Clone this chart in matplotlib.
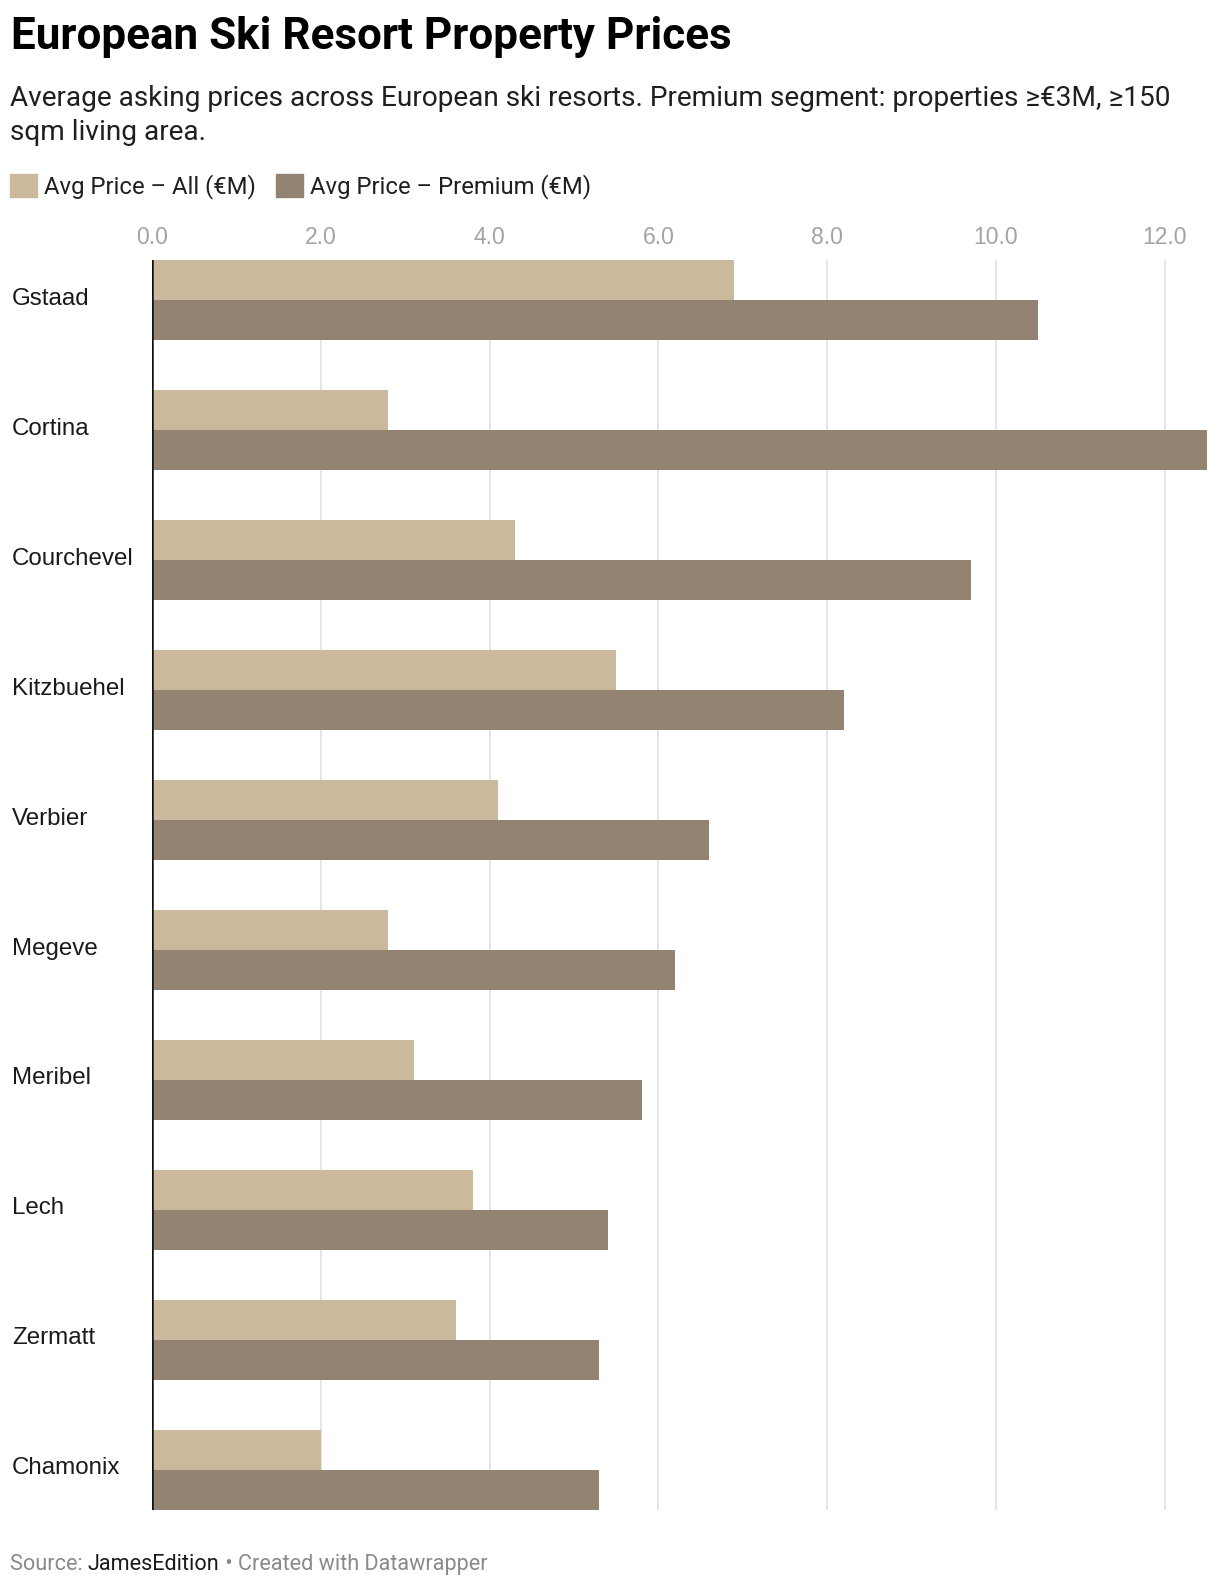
import matplotlib
matplotlib.use("Agg")
import matplotlib.pyplot as plt
from matplotlib.patches import Patch
import numpy as np

resorts = ["Gstaad", "Cortina", "Courchevel", "Kitzbuehel", "Verbier",
           "Megeve", "Meribel", "Lech", "Zermatt", "Chamonix"]
price_all = [6.9, 2.8, 4.3, 5.5, 4.1, 2.8, 3.1, 3.8, 3.6, 2.0]
price_premium = [10.5, 12.5, 9.7, 8.2, 6.6, 6.2, 5.8, 5.4, 5.3, 5.3]
series_names = ["Avg Price \u2013 All (\u20acM)", "Avg Price \u2013 Premium (\u20acM)"]
xticks = [0, 2, 4, 6, 8, 10, 12]

c_all = "#cbb99d"
c_prem = "#928373"
W, H = 1220, 1586
ui_font = ["Roboto", "DejaVu Sans"]
lab_font = ["Liberation Sans", "DejaVu Sans"]

fig = plt.figure(figsize=(W / 100, H / 100), dpi=100)
ax = fig.add_axes([152 / W, 1 - 1510 / H, (1207 - 152) / W, (1510 - 260) / H])

y = np.arange(len(resorts))
h = 40 / 130
ax.barh(y - h / 2, price_all, height=h, color=c_all, zorder=2)
ax.barh(y + h / 2, price_premium, height=h, color=c_prem, zorder=2)

ax.set_xlim(0, 12.5)
ax.set_ylim(len(resorts) - 1 + h, -h)

for s in ax.spines.values():
    s.set_visible(False)
ax.axvline(0, color="#111111", lw=1.8, zorder=3)
for t in xticks[1:]:
    ax.axvline(t, color="#e3e3e3", lw=1.3, zorder=1)

ax.xaxis.tick_top()
ax.set_xticks(xticks)
ax.set_xticklabels([f"{t:.1f}" for t in xticks], family=lab_font,
                   fontsize=16.5, color="#a3a3a3")
ax.tick_params(axis="x", length=0, pad=8)

# resort names, left aligned at the figure edge
ax.set_yticks([])
for i, name in enumerate(resorts):
    ax.annotate(name, xy=(12 / W, y[i]), xycoords=(fig.transFigure, ax.transData),
                xytext=(0, -4.5 * 0.72), textcoords="offset points",
                family=lab_font, fontsize=17.4, color="#1a1a1a",
                ha="left", va="baseline", annotation_clip=False)

fig.text(11 / W, 1 - 48.5 / H, "European Ski Resort Property Prices",
         family=ui_font, fontsize=31.7, fontweight="bold", color="#000000", va="baseline")
fig.text(10 / W, 1 - 106 / H,
         "Average asking prices across European ski resorts. Premium segment: properties \u2265\u20ac3M, \u2265150",
         family=ui_font, fontsize=20.2, color="#1f1f1f", va="baseline")
fig.text(10 / W, 1 - 139.5 / H, "sqm living area.",
         family=ui_font, fontsize=20.2, color="#1f1f1f", va="baseline")

handles = [Patch(color=c_all), Patch(color=c_prem)]
leg = fig.legend(handles, series_names, loc="upper left", ncol=2,
                 bbox_to_anchor=(10 / W, 1 - 174 / H), frameon=False,
                 prop={"family": ui_font, "size": 17.2},
                 handlelength=1.13, handleheight=1.13, handletextpad=0.3,
                 columnspacing=0.84, borderpad=0, borderaxespad=0)
for t in leg.get_texts():
    t.set_color("#1f1f1f")

# footer made of pieces in two colours
renderer = fig.canvas.get_renderer()
x = 10
for txt, col in [("Source: ", "#8a8a8a"), ("JamesEdition", "#1a1a1a"),
                 (" \u2022 Created with Datawrapper", "#8a8a8a")]:
    t = fig.text(x / W, 1 - 1570 / H, txt, family=ui_font, fontsize=15.6,
                 color=col, va="baseline")
    x = t.get_window_extent(renderer).x1

fig.savefig("out.png", dpi=100)
